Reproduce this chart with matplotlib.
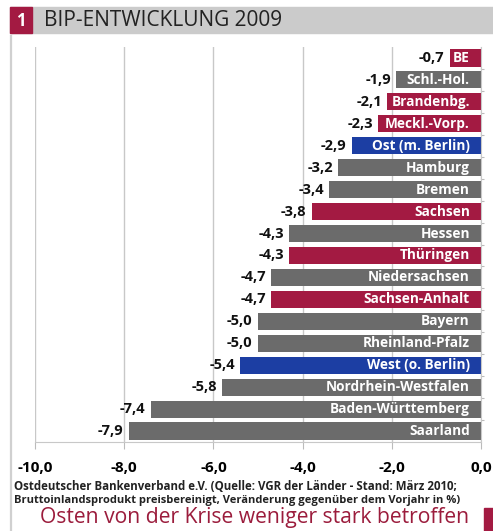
import matplotlib
matplotlib.use("Agg")
import matplotlib.pyplot as plt
from matplotlib.patches import Rectangle

regions = ["BE", "Schl.-Hol.", "Brandenbg.", "Meckl.-Vorp.", "Ost (m. Berlin)",
           "Hamburg", "Bremen", "Sachsen", "Hessen", "Thüringen", "Niedersachsen",
           "Sachsen-Anhalt", "Bayern", "Rheinland-Pfalz", "West (o. Berlin)",
           "Nordrhein-Westfalen", "Baden-Württemberg", "Saarland"]
growth = [-0.7, -1.9, -2.1, -2.3, -2.9, -3.2, -3.4, -3.8, -4.3, -4.3, -4.7,
          -4.7, -5.0, -5.0, -5.4, -5.8, -7.4, -7.9]
group = ["ost", "west", "ost", "ost", "sum", "west", "west", "ost", "west", "ost",
         "west", "ost", "west", "west", "sum", "west", "west", "west"]
xticks = [-10, -8, -6, -4, -2, 0]

RED = "#a31a42"
GREY = "#6b6b6b"
BLUE = "#1c3ea3"
colors = {"ost": RED, "west": GREY, "sum": BLUE}

plt.rcParams["font.family"] = ["Open Sans", "DejaVu Sans"]

W, H = 493, 531
fig = plt.figure(figsize=(W / 100, H / 100), dpi=100)

def fx(px):
    return px / W

def fy(py):
    return 1 - py / H

# title bar
fig.patches.append(Rectangle((fx(10), fy(33)), fx(483), 26 / H, transform=fig.transFigure,
                             color="#cbcbcb", zorder=0))
fig.patches.append(Rectangle((fx(10), fy(33)), fx(22), 26 / H, transform=fig.transFigure,
                             color=RED, zorder=1))
fig.text(fx(21), fy(20.5), "1", color="white", fontsize=12, fontweight="bold",
         ha="center", va="center")
fig.text(fx(44), fy(20.5), "BIP-ENTWICKLUNG 2009", color="#222222", fontsize=15,
         ha="left", va="center")
# left frame line and bottom-right marker
fig.add_artist(plt.Line2D([fx(11), fx(11)], [fy(36), fy(531)], color="#d0d0d0", lw=1.6))
fig.patches.append(Rectangle((fx(484), 0), fx(9), 23 / H, transform=fig.transFigure,
                             color=RED, zorder=1))

ax = fig.add_axes([fx(35), fy(442), fx(446), (442 - 47) / H])
y = list(range(len(regions)))
ax.barh(y, growth, height=0.78, color=[colors[g] for g in group], zorder=2)
ax.set_xlim(-10, 0)
ax.set_ylim(len(regions) - 0.5, -0.5)
ax.set_xticks(xticks)
ax.set_xticklabels([f"{t:.1f}".replace(".", ",") for t in xticks],
                   fontsize=11, fontweight="bold")
ax.set_yticks([i + 0.5 for i in y[:-1]])
ax.set_yticklabels([])
ax.yaxis.tick_right()
ax.tick_params(axis="y", length=2, color="#bbbbbb", right=True, left=False)
ax.tick_params(axis="x", length=5, color="#bbbbbb", pad=9)
ax.grid(axis="x", color="#c8c8c8", lw=1, zorder=0)
for s in ["top", "left"]:
    ax.spines[s].set_visible(False)
ax.spines["right"].set_color("#c8c8c8")
ax.spines["bottom"].set_color("#c8c8c8")
ax.spines["right"].set_position(("data", 0))

for i, (name, v) in enumerate(zip(regions, growth)):
    ax.text(-0.25, i, name, color="white", fontsize=9.8, fontweight="bold",
            ha="right", va="center", zorder=3)
    ax.text(v - 0.12, i, f"{v:.1f}".replace(".", ","), color="#111111", fontsize=10.5,
            fontweight="bold", ha="right", va="center", zorder=3)

fig.text(fx(14), fy(486), "Ostdeutscher Bankenverband e.V. (Quelle: VGR der Länder - Stand: März 2010;",
         fontsize=8.3, fontweight="bold", color="#222222", ha="left", va="center")
fig.text(fx(14), fy(501), "Bruttoinlandsprodukt preisbereinigt, Veränderung gegenüber dem Vorjahr in %)",
         fontsize=8.0, fontweight="bold", color="#222222", ha="left", va="center")
fig.text(fx(255), fy(518), "Osten von der Krise weniger stark betroffen", fontsize=15.2,
         color="#9b1c3c", ha="center", va="center")

fig.savefig("out.png", dpi=100)
